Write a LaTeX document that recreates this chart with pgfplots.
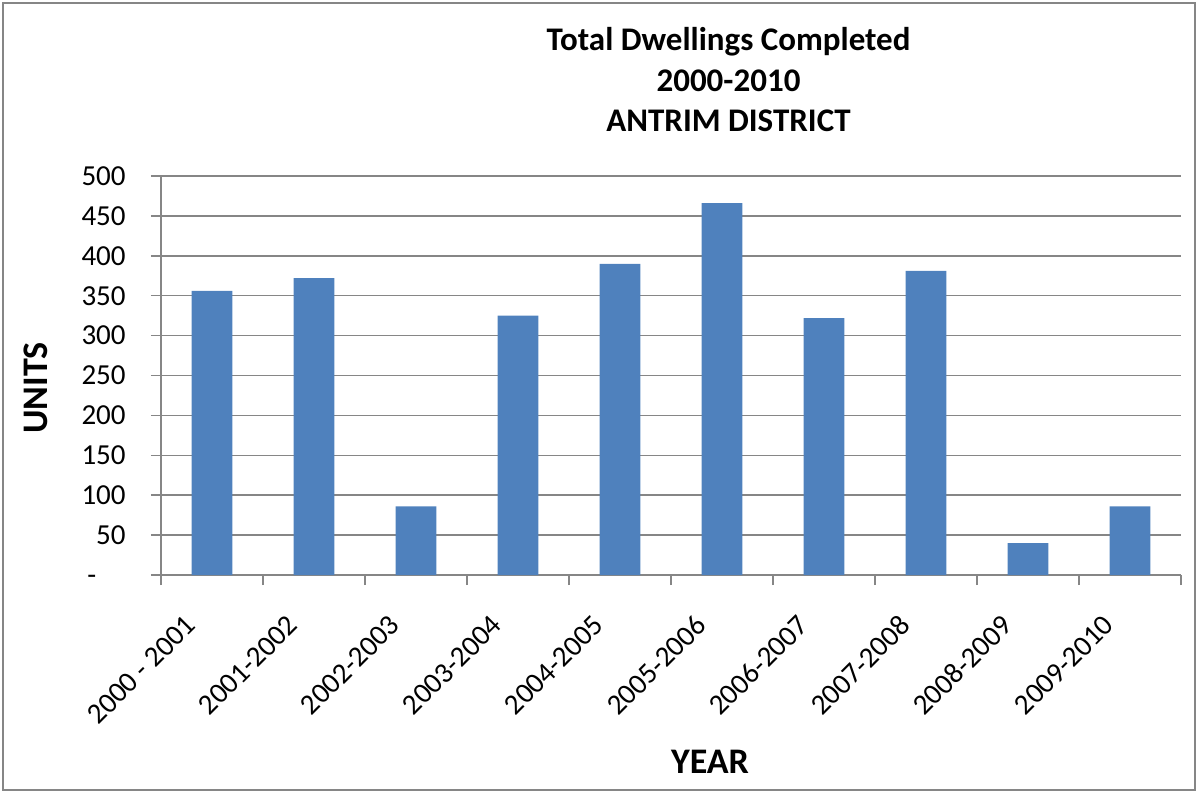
\documentclass[border=0pt]{standalone}
\usepackage{fontspec}
\setmainfont{Carlito}
\usepackage{pgfplots}
\pgfplotsset{compat=1.18}
\definecolor{barblue}{RGB}{79,129,189}
\definecolor{linegray}{RGB}{134,134,134}
\begin{document}
\begin{tikzpicture}
\useasboundingbox (-80.5bp,-109bp) rectangle (518.5bp,287.5bp);
% outer chart frame
\draw[linegray, line width=0.75bp] (-79bp,-107.5bp) rectangle (517bp,286bp);
\begin{axis}[
    at={(0,0)}, anchor=south west,
    scale only axis,
    width=510bp, height=199.5bp,
    xmin=-0.5, xmax=9.5,
    ymin=0, ymax=500,
    axis lines*=left,
    axis line style={linegray, line width=0.75bp},
    tick align=outside,
    major tick length=5bp,
    minor tick length=5bp,
    tick style={linegray, line width=0.75bp},
    major x tick style={draw=none},
    xtick={0,...,9},
    minor xtick={-0.5,0.5,...,9.5},
    xticklabels={2000 - 2001,2001-2002,2002-2003,2003-2004,2004-2005,2005-2006,2006-2007,2007-2008,2008-2009,2009-2010},
    xticklabel style={xshift=-14bp, yshift=-14bp, rotate=45, anchor=north east, inner sep=0pt},
    ytick={0,50,...,500},
    yticklabels={-\phantom{00},50,100,150,200,250,300,350,400,450,500},
    yticklabel style={inner sep=0pt, xshift=-12.5bp},
    ymajorgrids,
    major grid style={linegray, line width=0.75bp},
    ticklabel style={font=\fontsize{14.5bp}{17bp}\selectfont},
]
\addplot[ybar, bar width=0.4, fill=barblue, draw=none] coordinates {
    (0,356) (1,372) (2,86) (3,325) (4,390)
    (5,466) (6,322) (7,381) (8,40) (9,86)
};
\end{axis}
% title
\begin{scope}[every node/.style={font=\bfseries\fontsize{16.5bp}{20bp}\selectfont, anchor=base, inner sep=0pt}]
\node at (283.75bp,262bp) {Total Dwellings Completed};
\node at (283.75bp,241.5bp) {2000-2010};
\node at (283.75bp,221.5bp) {ANTRIM DISTRICT};
\end{scope}
% axis titles
\node[font=\bfseries\fontsize{18bp}{21bp}\selectfont, rotate=90, inner sep=0pt] at (-62.5bp,93.5bp) {UNITS};
\node[font=\bfseries\fontsize{18bp}{21bp}\selectfont, anchor=base, inner sep=0pt] at (274.5bp,-99bp) {YEAR};
\end{tikzpicture}
\end{document}
